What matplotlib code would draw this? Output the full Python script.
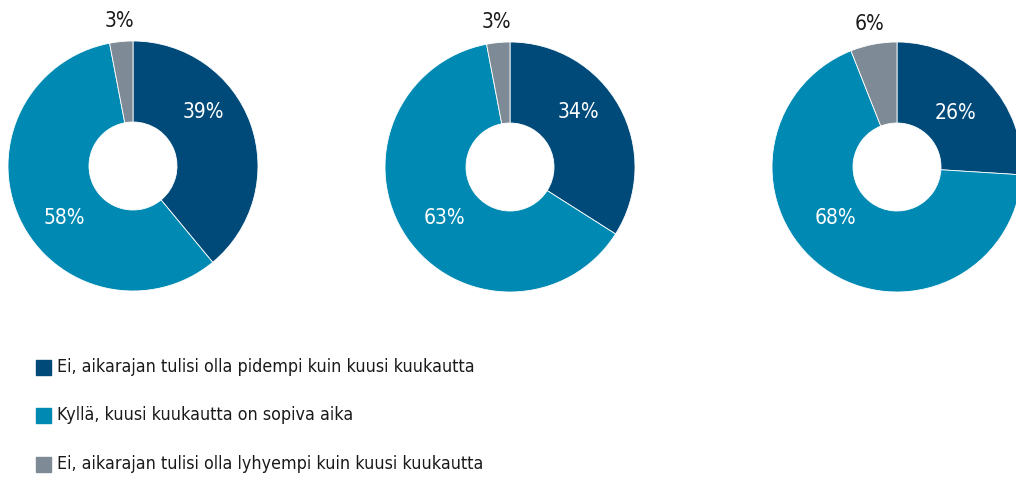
import numpy as np
import matplotlib.pyplot as plt
from matplotlib.patches import Rectangle

plt.rcParams['font.family'] = ['DejaVu Sans']
plt.rcParams['font.stretch'] = 'condensed'

# data
categories = [
    'Ei, aikarajan tulisi olla pidempi kuin kuusi kuukautta',
    'Kyllä, kuusi kuukautta on sopiva aika',
    'Ei, aikarajan tulisi olla lyhyempi kuin kuusi kuukautta',
]
chart1 = [39, 58, 3]
chart2 = [34, 63, 3]
chart3 = [26, 68, 6]

colors = ['#004a7a', '#0089b2', '#7e8a95']

W, H = 1016, 478
fig = plt.figure(figsize=(W / 100, H / 100), dpi=100)
ax = fig.add_axes([0, 0, 1, 1])

R = 125
hole = 44
centers = [(133, H - 166), (510, H - 167), (897, H - 167)]
# where the inside labels sit, relative to the centre (dx, dy)
inside_pos = [
    [(70, 54), (-69, -52)],
    [(68, 55), (-66, -51)],
    [(58, 54), (-62, -51)],
]

for vals, (cx, cy), pos in zip([chart1, chart2, chart3], centers, inside_pos):
    wedges, _ = ax.pie(vals, colors=colors, startangle=90, counterclock=False,
                       radius=R, center=(cx, cy), frame=True,
                       wedgeprops=dict(width=R - hole, edgecolor='white', linewidth=0.6))
    for v, (dx, dy) in zip(vals[:2], pos):
        ax.text(cx + dx, cy + dy, f'{v}%', color='white', fontsize=15,
                ha='center', va='center')
    # small grey share goes above the ring
    w = wedges[2]
    mid = np.deg2rad((w.theta1 + w.theta2) / 2)
    ax.text(cx + 146 * np.cos(mid), cy + 146 * np.sin(mid), f'{vals[2]}%',
            color='#1a1a1a', fontsize=15, ha='center', va='center')

ax.set_xlim(0, W)
ax.set_ylim(0, H)
ax.set_aspect('equal')
ax.axis('off')

# legend
rows_y = [H - 367, H - 415, H - 464]
for lab, col, y in zip(categories, colors, rows_y):
    ax.add_patch(Rectangle((36, y - 7.5), 15, 15, color=col))
    ax.text(57, y, lab, color='#1a1a1a', fontsize=12.8, ha='left', va='center')

fig.savefig('out.png', dpi=100)
